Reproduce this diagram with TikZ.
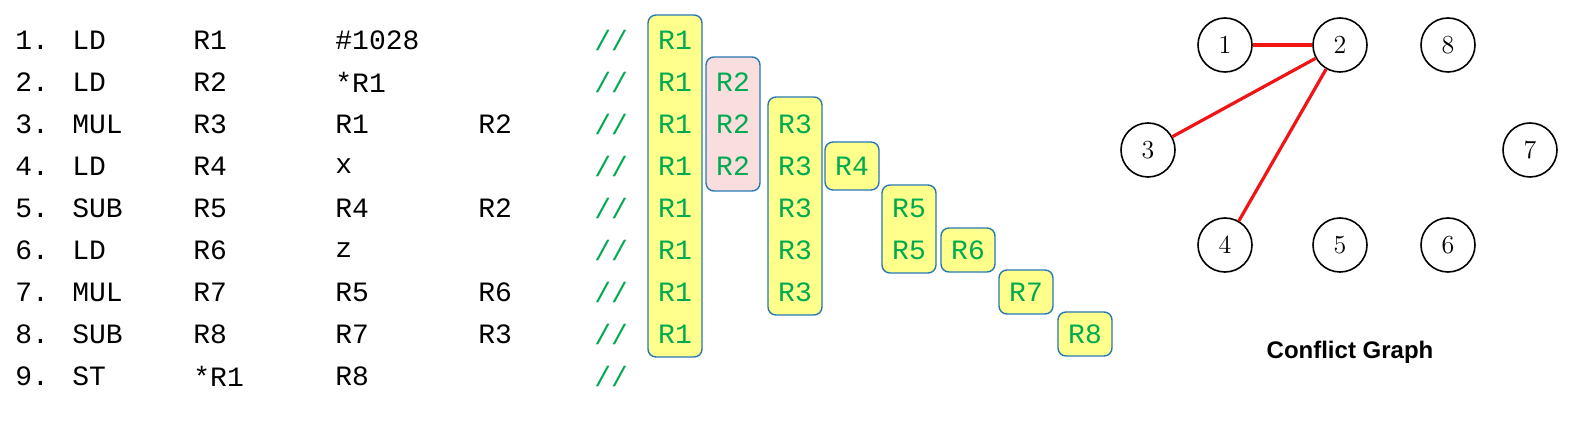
\documentclass[tikz,border=0pt]{standalone}
\usepackage{fontspec}
\setmonofont{Liberation Mono}
\setsansfont{Liberation Sans}
\usetikzlibrary{positioning}
\definecolor{cgreen}{RGB}{0,170,80}
\definecolor{cyellow}{RGB}{255,255,140}
\definecolor{cblue}{RGB}{40,120,180}
\definecolor{cpink}{RGB}{250,222,222}
\definecolor{cred}{RGB}{240,20,20}

\begin{document}
\begin{tikzpicture}[x=0.5pt,y=-0.5pt,
    code/.style={anchor=west,font=\ttfamily\fontsize{14}{16}\selectfont,inner sep=0},
    reg/.style={font=\ttfamily\fontsize{14}{16}\selectfont,text=cgreen,inner sep=0},
    live/.style={draw=cblue,fill=cyellow,rounded corners=4pt,line width=0.7pt,minimum width=27pt},
    vtx/.style={circle,draw,line width=0.8pt,minimum size=27pt,inner sep=0,font=\fontsize{13}{15}\selectfont},
    conflict/.style={cred,line width=1.6pt}]

  \useasboundingbox (0,0) rectangle (1571,422);

  % code listing
  \foreach \n/\op/\rd/\ra/\rb [count=\i] in {1./LD/R1/\#1028/, 2./LD/R2/*R1/,
      3./MUL/R3/R1/R2, 4./LD/R4/x/, 5./SUB/R5/R4/R2, 6./LD/R6/z/,
      7./MUL/R7/R5/R6, 8./SUB/R8/R7/R3, 9./ST/*R1/R8/} {
    \node[code] (n\i) at (15,{40+42*(\i-1)}) {\n};
    \node[code] (op\i) at (72,{40+42*(\i-1)}) {\op};
    \node[code] (rd\i) at (193,{40+42*(\i-1)}) {\rd};
    \node[code] (ra\i) at (335,{40+42*(\i-1)}) {\ra};
    \node[code] (rb\i) at (478,{40+42*(\i-1)}) {\rb};
    \node[code,text=cgreen] (c\i) at (594,{40+42*(\i-1)}) {//};
  }

  % live ranges
  \node[live,minimum height=171pt] (b1) at (675,186) {};
  \node[live,fill=cpink,minimum height=67pt] (b2) at (733,124) {};
  \node[live,minimum height=109pt] (b3) at (795,206) {};
  \node[live,minimum height=24pt] (b4) at (852,166) {};
  \node[live,minimum height=44pt] (b5) at (909,229) {};
  \node[live,minimum height=22pt] (b6) at (968,250) {};
  \node[live,minimum height=22pt] (b7) at (1026,292) {};
  \node[live,minimum height=22pt] (b8) at (1085,334) {};

  \foreach \i in {1,...,8}
    \node[reg] (r1\i) at (675,{40+42*(\i-1)}) {R1};
  \foreach \i in {2,3,4}
    \node[reg] (r2\i) at (733,{40+42*(\i-1)}) {R2};
  \foreach \i in {3,...,7}
    \node[reg] (r3\i) at (795,{40+42*(\i-1)}) {R3};
  \node[reg] (r44) at (852,166) {R4};
  \node[reg] (r55) at (909,208) {R5};
  \node[reg] (r56) at (909,250) {R5};
  \node[reg] (r66) at (968,250) {R6};
  \node[reg] (r77) at (1026,292) {R7};
  \node[reg] (r88) at (1085,334) {R8};

  % conflict graph
  \node[vtx] (v1) at (1225,45) {1};
  \node[vtx] (v2) at (1340,45) {2};
  \node[vtx] (v8) at (1448,45) {8};
  \node[vtx] (v3) at (1148,150) {3};
  \node[vtx] (v7) at (1530,150) {7};
  \node[vtx] (v4) at (1225,245) {4};
  \node[vtx] (v5) at (1340,245) {5};
  \node[vtx] (v6) at (1448,245) {6};

  \draw[conflict] (v1) -- (v2);
  \draw[conflict] (v2) -- (v3);
  \draw[conflict] (v2) -- (v4);

  \node[font=\sffamily\bfseries\fontsize{12}{14}\selectfont] (title) at (1350,352) {Conflict Graph};

\end{tikzpicture}
\end{document}
